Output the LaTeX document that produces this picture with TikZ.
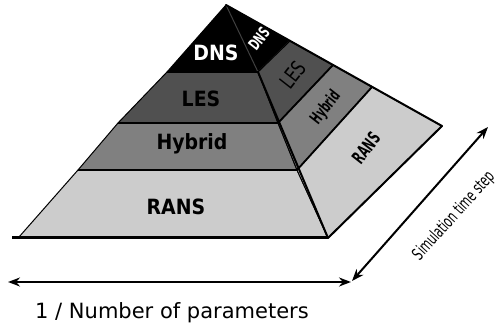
\documentclass[tikz,border=0pt]{standalone}
\usepackage{fontspec}
\setmainfont{DejaVu Sans}
\usetikzlibrary{arrows.meta}
\definecolor{lesgray}{HTML}{505050}
\definecolor{hybgray}{HTML}{808080}
\definecolor{ransgray}{HTML}{CCCCCC}
\tikzset{
  band/.style={draw=black, line width=1pt, line join=round},
  edge/.style={draw=black, line width=2pt, line cap=round, line join=round},
  sep/.style={draw=black, line width=1.8pt},
  frontlabel/.style={font=\fontsize{21}{24}\selectfont\bfseries, inner sep=0pt},
  sidelabel/.style={inner sep=0pt, rotate=52},
  dimarrow/.style={line width=2pt, {Stealth[length=12pt,width=9pt]}-{Stealth[length=12pt,width=9pt]}}
}
\begin{document}
\begin{tikzpicture}[x=1pt,y=-1pt]
\useasboundingbox (0,0) rectangle (504,326);
% key points
\coordinate (apex) at (226,5);
\coordinate (fl1) at (167,72);  \coordinate (fr1) at (258,72);
\coordinate (fl2) at (118,123); \coordinate (fr2) at (278,123);
\coordinate (fl3) at (78,170);  \coordinate (fr3) at (297,170);
\coordinate (fl4) at (19,237);  \coordinate (fr4) at (328,238);
\coordinate (b1) at (290,41);
\coordinate (b2) at (333,65);
\coordinate (b3) at (372,87);
\coordinate (b4) at (442,126);
\coordinate (base0) at (12,238);
% front bands
\path[band, fill=black] (apex) -- (fr1) -- (fl1) -- cycle;
\path[band, fill=lesgray] (fl1) -- (fr1) -- (fr2) -- (fl2) -- cycle;
\path[band, fill=hybgray] (fl2) -- (fr2) -- (fr3) -- (fl3) -- cycle;
\path[band, fill=ransgray] (fl3) -- (fr3) -- (fr4) -- (fl4) -- cycle;
% side bands
\path[band, fill=black, draw=darkgray] (apex) -- (b1) -- (fr1) -- cycle;
\path[band, fill=lesgray] (fr1) -- (b1) -- (b2) -- (fr2) -- cycle;
\path[band, fill=hybgray] (fr2) -- (b2) -- (b3) -- (fr3) -- cycle;
\path[band, fill=ransgray] (fr3) -- (b3) -- (b4) -- (fr4) -- cycle;
% separators
\draw[sep] (fl1) -- (fr1);
\draw[sep] (fl2) -- (fr2);
\draw[sep] (fl3) -- (fr3);
\draw[sep] (fr2) -- (b2);
\draw[sep] (fr3) -- (b3);
% outer edges
\draw[edge] (apex) -- (b4) -- (fr4);
\draw[edge] (fr1) -- (fr4);
\draw[line width=3pt] (base0) -- (fr4);
% front labels
\node[frontlabel, text=white] (fdns) at (216,53) {\scalebox{0.9}[1]{DNS}};
\node[frontlabel] (fles) at (201,99) {\scalebox{0.9}[1]{LES}};
\node[frontlabel] (fhyb) at (192,144) {\scalebox{0.9}[1]{Hybrid}};
\node[frontlabel] (frans) at (176,207) {\scalebox{0.9}[1]{RANS}};
% side labels
\node[sidelabel, text=white, font=\fontsize{16}{18}\selectfont\bfseries] (sdns) at (259,39) {\scalebox{0.62}[1]{DNS}};
\node[sidelabel, font=\fontsize{21}{23}\selectfont] (sles) at (293,75) {\scalebox{0.72}[1]{LES}};
\node[sidelabel, font=\fontsize{17}{19}\selectfont\bfseries] (shyb) at (326,108) {\scalebox{0.58}[1]{Hybrid}};
\node[sidelabel, font=\fontsize{18}{20}\selectfont\bfseries] (srans) at (366,148) {\scalebox{0.6}[1]{RANS}};
% dimension arrows
\coordinate (hl) at (8,282);
\coordinate (hr) at (351,282);
\coordinate (dl) at (352,281);
\coordinate (du) at (488,127);
\draw[dimarrow] (hl) -- (hr);
\draw[dimarrow] (dl) -- (du);
\node[inner sep=0pt, font=\fontsize{21}{24}\selectfont] (xlabel) at (172,313) {1 / Number of parameters};
\node[inner sep=0pt, rotate=48, font=\fontsize{17}{19}\selectfont] (ylabel) at (454,216) {\scalebox{0.64}[1]{Simulation time step}};
\end{tikzpicture}
\end{document}
